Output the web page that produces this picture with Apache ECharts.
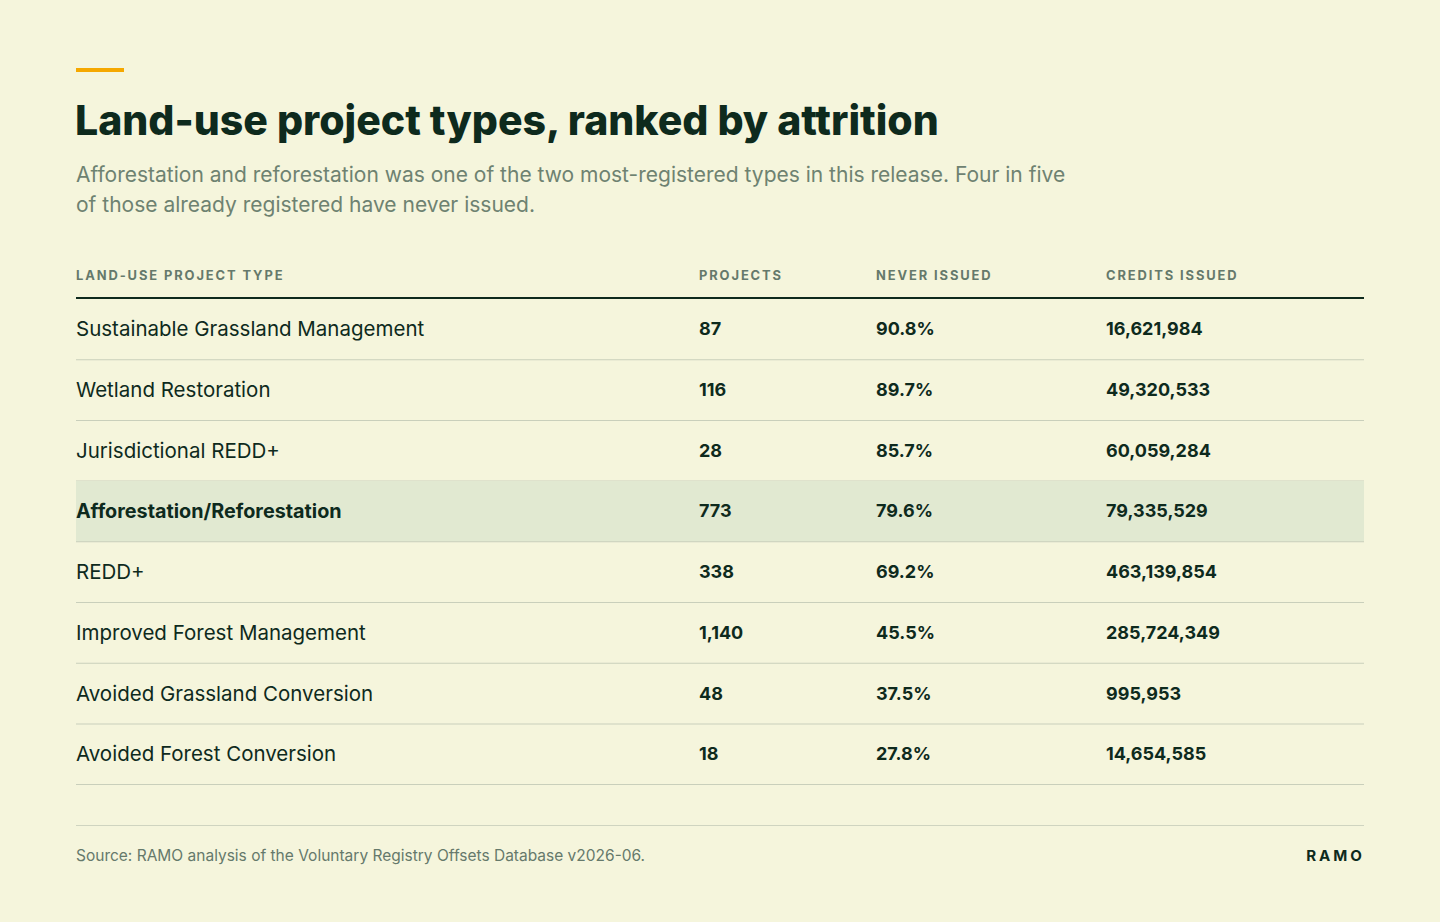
<!DOCTYPE html>
<html>
<head>
<meta charset="utf-8">
<script src="https://cdn.jsdelivr.net/npm/echarts@6/dist/echarts.min.js"></script>
<style>
    html, body { margin: 0; padding: 0; background: #f5f5dc; }
    #main { width: 1440px; height: 922px; }
    /* 表头字距 */
    #main svg text[style*="12.9px"] { letter-spacing: 1.9px; }
    #main svg text[style*="15.1px"] { letter-spacing: 3px; }
</style>
</head>
<body>
<div id="main"></div>
<script type="text/javascript">
    // 表格数据
    const projectTypes = ['Sustainable Grassland Management', 'Wetland Restoration', 'Jurisdictional REDD+',
        'Afforestation/Reforestation', 'REDD+', 'Improved Forest Management',
        'Avoided Grassland Conversion', 'Avoided Forest Conversion'];
    const projectCounts = [87, 116, 28, 773, 338, 1140, 48, 18];
    const neverIssued = [90.8, 89.7, 85.7, 79.6, 69.2, 45.5, 37.5, 27.8];
    const creditsIssued = [16621984, 49320533, 60059284, 79335529, 463139854, 285724349, 995953, 14654585];
    const columnHeads = ['LAND-USE PROJECT TYPE', 'PROJECTS', 'NEVER ISSUED', 'CREDITS ISSUED'];
    const highlightType = 'Afforestation/Reforestation';

    const titleText = 'Land-use project types, ranked by attrition';
    const subText = 'Afforestation and reforestation was one of the two most-registered types in this release. Four in five\nof those already registered have never issued.';
    const sourceText = 'Source: RAMO analysis of the Voluntary Registry Offsets Database v2026-06.';
    const brandText = 'RAMO';

    const FONT = 'Inter, "Noto Sans", sans-serif';
    const DARK = '#0e2a1d';
    const GREY = '#65796b';

    function fmt(n) {
        return n.toLocaleString('en-US');
    }

    let colX = [76, 699, 876, 1106];
    let left = 76, right = 1364;
    let headY = 275, ruleY = 298, rowH = 60.7;

    let els = [];
    // 橙色短线
    els.push({type: 'rect', shape: {x: 76, y: 68, width: 48, height: 4}, style: {fill: '#f5a800'}});
    // 标题
    els.push({type: 'text', x: 75, y: 120, style: {text: titleText, font: '800 41px ' + FONT, fill: DARK, verticalAlign: 'middle'}});
    els.push({type: 'text', x: 76, y: 159, style: {text: subText, font: '21px ' + FONT, fill: '#6e8271', lineHeight: 30, verticalAlign: 'top'}});

    // 表头
    for (let i = 0; i < columnHeads.length; i++) {
        els.push({type: 'text', x: colX[i], y: headY, style: {text: columnHeads[i], font: 'bold 12.9px ' + FONT, fill: GREY, verticalAlign: 'middle'}});
    }
    els.push({type: 'rect', shape: {x: left, y: ruleY - 1, width: right - left, height: 2}, style: {fill: DARK}});

    for (let i = 0; i < projectTypes.length; i++) {
        let top = ruleY + 1 + i * rowH;
        let cy = top + rowH / 2 - 0.5;
        let hl = projectTypes[i] === highlightType;
        if (hl) {
            els.push({type: 'rect', shape: {x: left, y: top, width: right - left, height: rowH}, style: {fill: '#e1e9d1'}});
        }
        els.push({type: 'rect', shape: {x: left, y: top + rowH - 0.5, width: right - left, height: 1}, style: {fill: '#c9cfbb'}});
        els.push({type: 'text', x: colX[0], y: cy, style: {text: projectTypes[i], font: (hl ? 'bold 19.8px ' : '20.5px ') + FONT, fill: DARK, verticalAlign: 'middle'}});
        els.push({type: 'text', x: colX[1], y: cy, style: {text: fmt(projectCounts[i]), font: 'bold 18px ' + FONT, fill: DARK, verticalAlign: 'middle'}});
        els.push({type: 'text', x: colX[2], y: cy, style: {text: neverIssued[i].toFixed(1) + '%', font: 'bold 18px ' + FONT, fill: DARK, verticalAlign: 'middle'}});
        els.push({type: 'text', x: colX[3], y: cy, style: {text: fmt(creditsIssued[i]), font: 'bold 18px ' + FONT, fill: DARK, verticalAlign: 'middle'}});
    }

    // 底部
    els.push({type: 'rect', shape: {x: left, y: 825, width: right - left, height: 1}, style: {fill: '#cfd4c0'}});
    els.push({type: 'text', x: 76, y: 855, style: {text: sourceText, font: '15.5px ' + FONT, fill: GREY, verticalAlign: 'middle'}});
    els.push({type: 'text', x: 1365, y: 855, style: {text: brandText, font: 'bold 15.1px ' + FONT, fill: DARK, align: 'right', verticalAlign: 'middle'}});

    let myChart = echarts.init(document.getElementById('main'), null, {renderer: 'svg'});
    myChart.setOption({
        backgroundColor: '#f5f5dc',
        animation: false,
        graphic: els
    });
</script>
</body>
</html>
